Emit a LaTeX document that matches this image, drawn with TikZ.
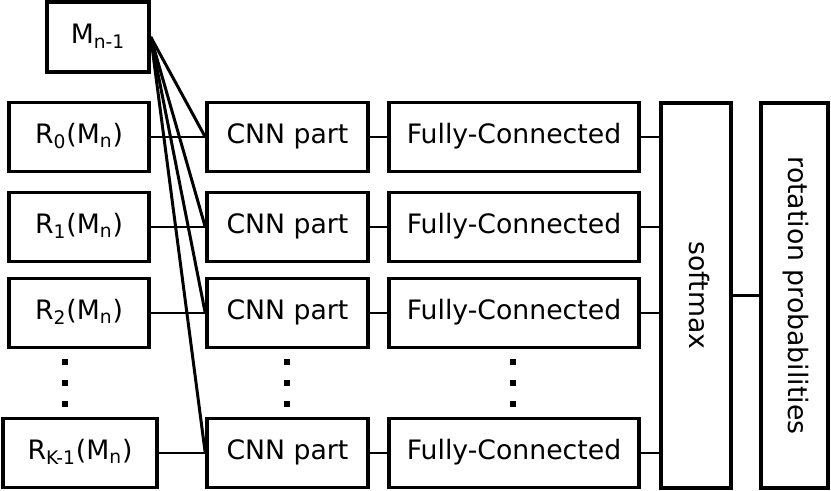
\documentclass[tikz,border=0pt]{standalone}
\usepackage{fontspec}
\setmainfont{DejaVu Sans}
\usepackage{tikz}
\usetikzlibrary{positioning}

\begin{document}
\begin{tikzpicture}[
  line width=1.7pt,
  box/.style={draw,line width=2pt,minimum height=1.38cm,inner sep=1pt,text height=0.74em,text depth=0pt},
  vbox/.style={draw,line width=2pt,rotate=-90,minimum width=7.70cm,inner sep=1pt,text height=0.74em,text depth=0pt},
  every node/.style={font=\fontsize{15.2}{18}\selectfont}]
  \useasboundingbox (0,0) rectangle (16.62,-9.82);
  % inputs
  \node[box,minimum width=2.04cm,minimum height=1.40cm] (M) at (1.96,-0.74) {M\textsubscript{n-1}};
  \node[box,minimum width=2.80cm] (R0) at (1.58,-2.74) {R\textsubscript{0}(M\textsubscript{n})};
  \node[box,minimum width=2.80cm] (R1) at (1.58,-4.54) {R\textsubscript{1}(M\textsubscript{n})};
  \node[box,minimum width=2.80cm] (R2) at (1.58,-6.26) {R\textsubscript{2}(M\textsubscript{n})};
  \node[box,minimum width=3.08cm] (RK) at (1.60,-9.06) {R\textsubscript{K-1}(M\textsubscript{n})};
  % CNN parts
  \node[box,minimum width=3.22cm] (C0) at (5.75,-2.74) {CNN part};
  \node[box,minimum width=3.22cm] (C1) at (5.75,-4.54) {CNN part};
  \node[box,minimum width=3.22cm] (C2) at (5.75,-6.26) {CNN part};
  \node[box,minimum width=3.22cm] (CK) at (5.75,-9.06) {CNN part};
  % fully connected
  \node[box,minimum width=5.0cm] (F0) at (10.28,-2.74) {Fully-Connected};
  \node[box,minimum width=5.0cm] (F1) at (10.28,-4.54) {Fully-Connected};
  \node[box,minimum width=5.0cm] (F2) at (10.28,-6.26) {Fully-Connected};
  \node[box,minimum width=5.0cm] (FK) at (10.28,-9.06) {Fully-Connected};
  % output (rotated: south is the left side, north the right side)
  \node[vbox,minimum height=1.40cm] (S) at (13.92,-5.91) {softmax};
  \node[vbox,minimum height=1.34cm] (P) at (15.89,-5.91) {rotation probabilities};
  % dots
  \foreach \x in {1.30,5.74,10.26}
    \foreach \y in {-7.24,-7.66,-8.08}
      \fill (\x-0.06,\y-0.06) rectangle (\x+0.06,\y+0.06);
  % connections
  \foreach \c in {C0,C1,C2,CK}
    \draw (M.east) -- (\c.west);
  \draw (R0.east) -- (C0.west);
  \draw (R1.east) -- (C1.west);
  \draw (R2.east) -- (C2.west);
  \draw (RK.east) -- (CK.west);
  \draw (C0.east) -- (F0.west);
  \draw (C1.east) -- (F1.west);
  \draw (C2.east) -- (F2.west);
  \draw (CK.east) -- (FK.west);
  \draw (F0.east) -- (F0.east -| S.south);
  \draw (F1.east) -- (F1.east -| S.south);
  \draw (F2.east) -- (F2.east -| S.south);
  \draw (FK.east) -- (FK.east -| S.south);
  \draw (S.north) -- (P.south);
\end{tikzpicture}
\end{document}
